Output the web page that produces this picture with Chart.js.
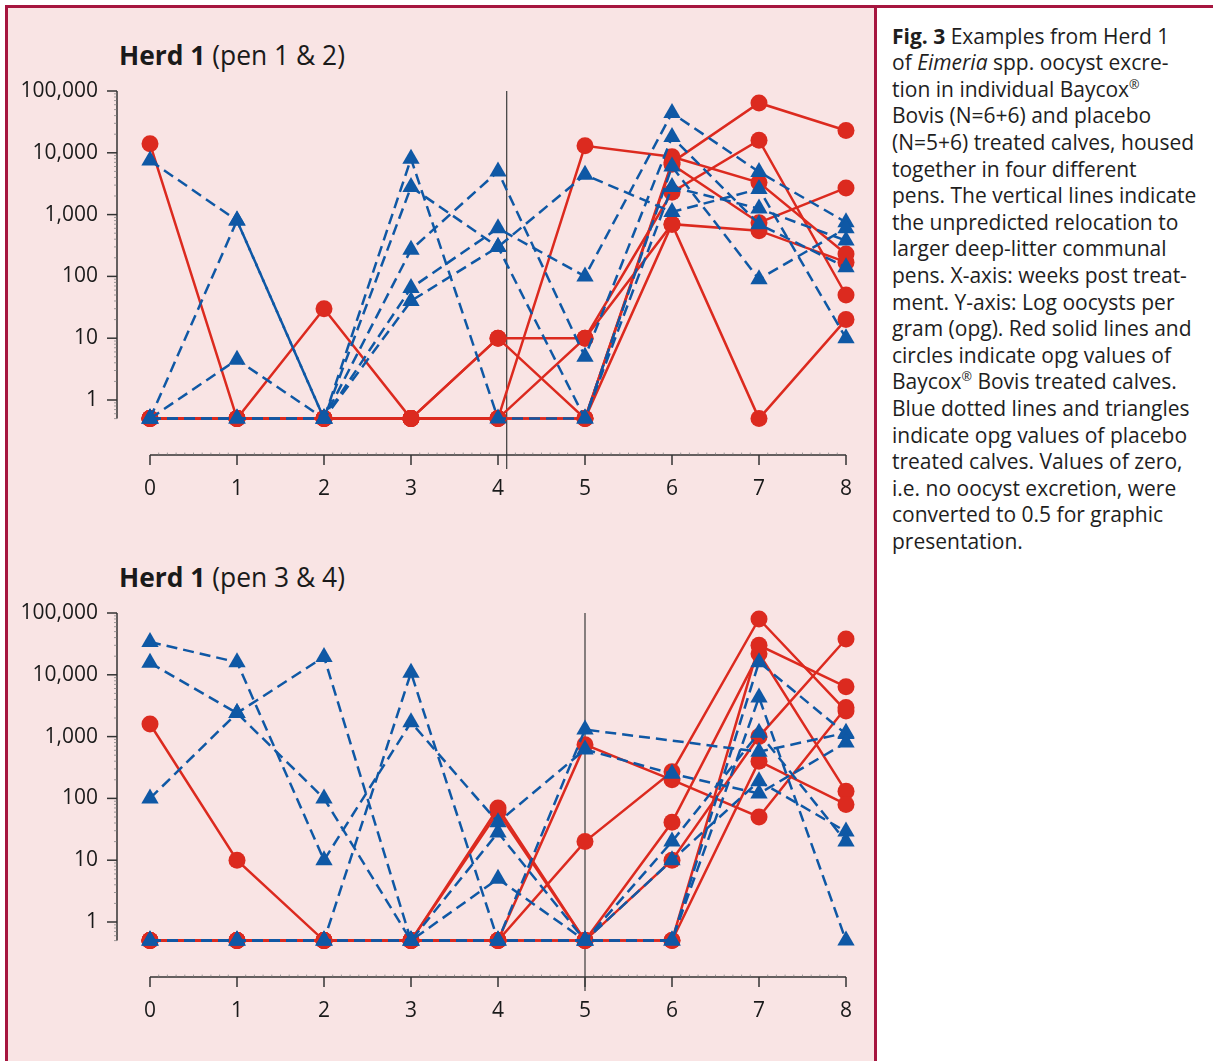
<!DOCTYPE html>
<html>
<head>
<meta charset="utf-8">
<script src="https://cdn.jsdelivr.net/npm/chart.js@4.4.1/dist/chart.umd.min.js"></script>
<style>
body{margin:0;width:1213px;height:1061px;overflow:hidden;background:#fff;font-family:"Open Sans",sans-serif;color:#1e1e1e;position:relative;}
.bar{position:absolute;background:#a6153f;}
#pink{position:absolute;left:7px;top:7px;width:867px;height:1054px;background:#f9e4e4;}
.title{position:absolute;left:119px;font-size:26.4px;line-height:1;white-space:nowrap;color:#1a1a1a;}
.title b{font-weight:700;}
canvas{position:absolute;left:0;}
#caption{position:absolute;left:892px;top:22.6px;font-size:21px;line-height:26.6px;white-space:nowrap;color:#1e1e1e;}
#caption sup{font-size:0.6em;line-height:0;vertical-align:0.6em;}
</style>
</head>
<body>
<div id="pink"></div>
<div class="bar" style="left:5px;top:5px;width:1208px;height:2.5px"></div>
<div class="bar" style="left:5px;top:5px;width:2.5px;height:1056px"></div>
<div class="bar" style="left:874px;top:5px;width:3px;height:1056px"></div>

<div class="title" style="top:41.6px"><b>Herd 1</b> (pen 1 &amp; 2)</div>
<div class="title" style="top:563.6px"><b>Herd 1</b> (pen 3 &amp; 4)</div>

<canvas id="chartTop" width="877" height="520" style="top:0"></canvas>
<canvas id="chartBottom" width="877" height="520" style="top:522px"></canvas>

<div id="caption">
<b>Fig. 3</b> Examples from Herd 1<br>
of <i>Eimeria</i> spp. oocyst excre-<br>
tion in individual Baycox<sup>®</sup><br>
Bovis (N=6+6) and placebo<br>
(N=5+6) treated calves, housed<br>
together in four different<br>
pens. The vertical lines indicate<br>
the unpredicted relocation to<br>
larger deep-litter communal<br>
pens. X-axis: weeks post treat-<br>
ment. Y-axis: Log oocysts per<br>
gram (opg). Red solid lines and<br>
circles indicate opg values of<br>
Baycox<sup>®</sup> Bovis treated calves.<br>
Blue dotted lines and triangles<br>
indicate opg values of placebo<br>
treated calves. Values of zero,<br>
i.e. no oocyst excretion, were<br>
converted to 0.5 for graphic<br>
presentation.
</div>

<script>
'use strict';

// weeks post treatment and log axis ticks
const weeks = [0, 1, 2, 3, 4, 5, 6, 7, 8];
const yTicks = [1, 10, 100, 1000, 10000, 100000];

// Herd 1, pen 1 & 2 (opg per calf, zero shown as 0.5)
const pen12Placebo = [
    [7500, 800, 0.5, 8000, 0.5, 0.5, 6000, 90, 600],
    [0.5, 800, 0.5, 2800, 300, 0.5, 2800, 1250, 380],
    [0.5, 4.5, 0.5, 270, 5000, 5, 18000, 700, 140],
    [0.5, 0.5, 0.5, 65, 600, 100, 44000, 4900, 750],
    [0.5, 0.5, 0.5, 40, 300, 4400, 1100, 2600, 10]
];
const pen12Baycox = [
    [14000, 0.5, 0.5, 0.5, 0.5, 13000, 8600, 3300, 230],
    [0.5, 0.5, 30, 0.5, 10, 10, 700, 550, 170],
    [0.5, 0.5, 0.5, 0.5, 10, 0.5, 700, 0.5, 20],
    [0.5, 0.5, 0.5, 0.5, 0.5, 10, 2300, 16000, 50],
    [0.5, 0.5, 0.5, 0.5, 0.5, 0.5, 7000, 64000, 23000],
    [0.5, 0.5, 0.5, 0.5, 0.5, 0.5, 6500, 740, 2700]
];

// Herd 1, pen 3 & 4
const pen34Placebo = [
    [34000, 16000, 10, 1700, 41, 620, 250, 120, 800],
    [15600, 2400, 100, 0.5, 28, 0.5, 20, 1150, 20],
    [100, 2400, 19500, 0.5, 5, 0.5, 10, 190, 29],
    [0.5, 0.5, 0.5, 10800, 0.5, 1300, null, 570, 1150],
    [0.5, 0.5, 0.5, 0.5, 0.5, 0.5, 0.5, 16000, 1100],
    [0.5, 0.5, 0.5, 0.5, 0.5, 0.5, 0.5, 4300, 0.5]
];
const pen34Baycox = [
    [1600, 10, 0.5, 0.5, 70, 0.5, 0.5, 30000, 6400],
    [0.5, 0.5, 0.5, 0.5, 60, 0.5, 0.5, 400, 80],
    [0.5, 0.5, 0.5, 0.5, 0.5, 740, 200, 50, 2950],
    [0.5, 0.5, 0.5, 0.5, 0.5, 20, 270, 80000, 2600],
    [0.5, 0.5, 0.5, 0.5, 0.5, 0.5, 41, 22000, 130],
    [0.5, 0.5, 0.5, 0.5, 0.5, 0.5, 10, 1000, 38000]
];

// week of the relocation to the communal pens
const relocationWeeks = [4.1, 5];

const RED = '#dc2a1f';
const BLUE = '#0f58a5';
const AXIS = '#333333';
const TEXT = '#1a1a1a';

function withCommas(v){
    return String(v).replace(/\B(?=(\d{3})+(?!\d))/g, ',');
}

function buildDatasets(placebo, baycox){
    const blue = placebo.map(vals => ({
        data: weeks.map((w, i) => ({x: w, y: vals[i]})),
        borderColor: BLUE,
        backgroundColor: BLUE,
        borderWidth: 2.5,
        borderDash: [11, 6],
        pointStyle: 'triangle',
        pointRadius: 10,
        pointBorderWidth: 0,
        spanGaps: true,
        clip: false
    }));
    const red = baycox.map(vals => ({
        data: weeks.map((w, i) => ({x: w, y: vals[i]})),
        borderColor: RED,
        backgroundColor: RED,
        borderWidth: 2.5,
        pointStyle: 'circle',
        pointRadius: 8.5,
        pointBorderWidth: 0,
        clip: false
    }));
    // first datasets are drawn last, so blue ends up on top like the print
    return blue.concat(red);
}

function line(ctx, x1, y1, x2, y2){
    ctx.beginPath();
    ctx.moveTo(x1, y1);
    ctx.lineTo(x2, y2);
    ctx.stroke();
}

// axes stand off from the plot in the original, so they are drawn here
const offsetAxes = {
    id: 'offsetAxes',
    beforeDatasetsDraw(chart, args, opts){
        const {ctx, chartArea} = chart;
        const xs = chart.scales.x, ys = chart.scales.y;
        const axX = chartArea.left - 33;
        const axY = chartArea.bottom + 36.5;
        const yTop = ys.getPixelForValue(yTicks[yTicks.length - 1]);
        const yBot = ys.getPixelForValue(0.5);
        ctx.save();
        ctx.strokeStyle = AXIS;
        ctx.lineWidth = 1.5;
        line(ctx, axX, yTop, axX, yBot);
        yTicks.forEach(v => {
            const p = ys.getPixelForValue(v);
            line(ctx, axX - 10, p, axX, p);
        });
        line(ctx, xs.getPixelForValue(weeks[0]), axY, xs.getPixelForValue(weeks[weeks.length - 1]), axY);
        weeks.forEach(w => {
            const p = xs.getPixelForValue(w);
            line(ctx, p, axY, p, axY + 10);
        });
        ctx.lineWidth = 0.7;
        ctx.strokeStyle = '#777';
        for(let e = -1; e < 5; e++){
            for(let m = 2; m < 10; m++){
                const v = m * Math.pow(10, e);
                if(v < 0.5) continue;
                const p = ys.getPixelForValue(v);
                line(ctx, axX - 3, p, axX, p);
            }
        }
        for(let t = 1; t < 80; t++){
            if(t % 10 == 0) continue;
            const p = xs.getPixelForValue(t / 10);
            line(ctx, p, axY - 2.5, p, axY);
        }
        ctx.strokeStyle = '#3a3a3a';
        ctx.lineWidth = 1.2;
        const rx = xs.getPixelForValue(opts.week);
        line(ctx, rx, yTop, rx, axY + 14);
        ctx.restore();
    }
};

function createChart(id, placebo, baycox, relocWeek){
    const ctx = document.getElementById(id).getContext('2d');
    return new Chart(ctx, {
        type: 'line',
        data: { datasets: buildDatasets(placebo, baycox) },
        plugins: [offsetAxes],
        options: {
            responsive: false,
            animation: false,
            events: [],
            layout: { autoPadding: false, padding: { left: 0, top: 91, right: 31, bottom: 0 } },
            plugins: {
                legend: { display: false },
                tooltip: { enabled: false },
                offsetAxes: { week: relocWeek }
            },
            scales: {
                x: {
                    type: 'linear',
                    min: 0,
                    max: 8,
                    afterFit: s => { s.height = 520 - 418.6; },
                    // tick length only pushes the labels down, the marks are drawn by the plugin
                    grid: { display: false, drawTicks: true, tickLength: 55 },
                    border: { display: false },
                    ticks: {
                        stepSize: 1,
                        padding: 3,
                        color: TEXT,
                        font: { family: 'Open Sans', size: 21 }
                    }
                },
                y: {
                    type: 'logarithmic',
                    min: 0.5,
                    max: 100000,
                    afterBuildTicks: s => { s.ticks = yTicks.map(v => ({value: v})); },
                    afterFit: s => { s.width = 150; },
                    grid: { display: false, drawTicks: true, tickLength: 49 },
                    border: { display: false },
                    ticks: {
                        padding: 3,
                        autoSkip: false,
                        color: TEXT,
                        font: { family: 'Open Sans', size: 21 },
                        callback: v => withCommas(v)
                    }
                }
            }
        }
    });
}

createChart('chartTop', pen12Placebo, pen12Baycox, relocationWeeks[0]);
createChart('chartBottom', pen34Placebo, pen34Baycox, relocationWeeks[1]);
</script>
</body>
</html>
